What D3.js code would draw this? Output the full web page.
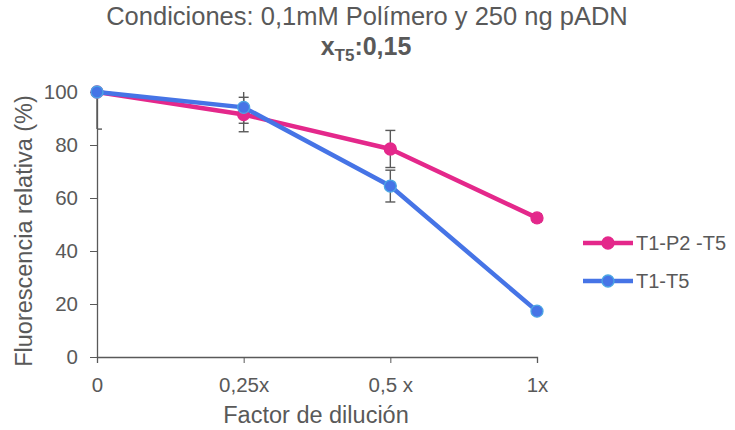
<!DOCTYPE html>
<html>
<head>
<meta charset="utf-8">
<script src="https://d3js.org/d3.v7.min.js"></script>
<style>
  body { margin: 0; background: #fff; }
  text { font-family: "Liberation Sans", Arial, sans-serif; fill: #595959; }
</style>
</head>
<body>
<svg id="chart" width="735" height="430"></svg>
<script>
var categories = ["0", "0,25x", "0,5 x", "1x"];
var seriesNames = ["T1-P2 -T5", "T1-T5"];
var pinkValues = [100, 91.5, 78.5, 52.5];
var pinkErrors = [14, 6.5, 7, 1.5];
var blueValues = [100, 94.2, 64.5, 17.3];
var blueErrors = [0, 6, 6, 0.5];
var yTicks = [0, 20, 40, 60, 80, 100];

var svg = d3.select("#chart"),
    margin = {top: 92, right: 198, bottom: 73, left: 97},
    width = +svg.attr("width") - margin.left - margin.right,
    height = +svg.attr("height") - margin.top - margin.bottom,
    g = svg.append("g").attr("transform", "translate(" + margin.left + "," + margin.top + ")");

var x = d3.scalePoint().domain(categories).range([0, width]);
var y = d3.scaleLinear().domain([0, 100]).range([height, 0]);

var series = [
  {name: seriesNames[0], values: pinkValues, errors: pinkErrors, color: "#e4288b", marker: "#e4288b"},
  {name: seriesNames[1], values: blueValues, errors: blueErrors, color: "#4674e6", marker: "#4ba6e4"}
];

// title
svg.append("text").attr("x", 367).attr("y", 25).attr("text-anchor", "middle")
  .style("font-size", "25.5px").text("Condiciones: 0,1mM Polímero y 250 ng pADN");
var t2 = svg.append("text").attr("x", 366).attr("y", 55).attr("text-anchor", "middle")
  .style("font-size", "25px").style("font-weight", "bold");
t2.append("tspan").text("x");
t2.append("tspan").attr("dy", 6).style("font-size", "17px").text("T5");
t2.append("tspan").attr("dy", -6).text(":0,15");

// axes
var xAxis = g.append("g")
  .attr("transform", "translate(0," + height + ")")
  .call(d3.axisBottom(x).tickSize(6).tickPadding(14));
xAxis.select(".domain").attr("stroke", "#595959").attr("stroke-width", 1.3);
xAxis.selectAll(".tick line").attr("stroke", "#595959");
xAxis.selectAll("text").style("font-size", "20.5px").attr("fill", "#595959");

var yAxis = g.append("g")
  .call(d3.axisLeft(y).tickValues(yTicks).tickSize(7).tickSizeOuter(0).tickPadding(12));
yAxis.select(".domain").attr("stroke", "#595959").attr("stroke-width", 1.3);
yAxis.selectAll(".tick line").attr("stroke", "#595959");
yAxis.selectAll("text").style("font-size", "20.5px").attr("fill", "#595959");

svg.append("text").attr("x", 316).attr("y", 423).attr("text-anchor", "middle")
  .style("font-size", "23.5px").text("Factor de dilución");
svg.append("text").attr("transform", "translate(32,231) rotate(-90)")
  .attr("text-anchor", "middle").style("font-size", "23.5px").text("Fluorescencia relativa (%)");

var line = d3.line()
  .x(function(d, i) { return x(categories[i]); })
  .y(function(d) { return y(d); });

// error bars
series.forEach(function(s) {
  var eb = g.append("g").attr("stroke", "#595959").attr("stroke-width", 1.4);
  s.values.forEach(function(v, i) {
    if (!s.errors[i]) return;
    var cx = x(categories[i]);
    var top = y(Math.min(100, v + s.errors[i])), bot = y(v - s.errors[i]);
    eb.append("line").attr("x1", cx).attr("x2", cx).attr("y1", top).attr("y2", bot);
    var capL = i === 0 ? 0 : -5;
    if (v + s.errors[i] <= 100)
      eb.append("line").attr("x1", cx + capL).attr("x2", cx + 5).attr("y1", top).attr("y2", top);
    eb.append("line").attr("x1", cx + capL).attr("x2", cx + 5).attr("y1", bot).attr("y2", bot);
  });
});

series.forEach(function(s) {
  g.append("path").datum(s.values)
    .attr("fill", "none").attr("stroke", s.color).attr("stroke-width", 4.5)
    .attr("stroke-linejoin", "round").attr("d", line);
  g.selectAll(null).data(s.values).enter().append("circle")
    .attr("cx", function(d, i) { return x(categories[i]); })
    .attr("cy", function(d) { return y(d); })
    .attr("r", 6).attr("fill", s.color).attr("stroke", s.marker).attr("stroke-width", 1.3);
});

// legend
var legend = svg.append("g").attr("transform", "translate(583,243)");
series.forEach(function(s, i) {
  var row = legend.append("g").attr("transform", "translate(0," + (i * 38) + ")");
  row.append("line").attr("x1", 0).attr("x2", 50).attr("stroke", s.color).attr("stroke-width", 4.5);
  row.append("circle").attr("cx", 25).attr("r", 6).attr("fill", s.color)
    .attr("stroke", s.marker).attr("stroke-width", 1.3);
  row.append("text").attr("x", 53).attr("y", 7).style("font-size", "20px").text(s.name);
});
</script>
</body>
</html>
